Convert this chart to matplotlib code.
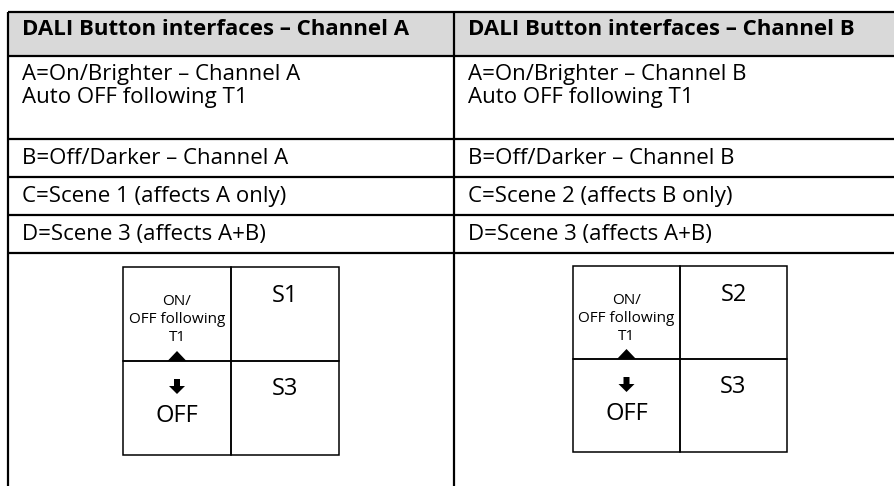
import matplotlib.pyplot as plt
from matplotlib.patches import Rectangle, Polygon, FancyArrow

plt.rcParams['font.family'] = ['Open Sans', 'DejaVu Sans']

# table content
headers = ["DALI Button interfaces – Channel A", "DALI Button interfaces – Channel B"]
first_row = [["A=On/Brighter – Channel A", "Auto OFF following T1"],
             ["A=On/Brighter – Channel B", "Auto OFF following T1"]]
other_rows = [["B=Off/Darker – Channel A", "C=Scene 1 (affects A only)", "D=Scene 3 (affects A+B)"],
              ["B=Off/Darker – Channel B", "C=Scene 2 (affects B only)", "D=Scene 3 (affects A+B)"]]
onoff_label = ["ON/", "OFF following", "T1"]
off_label = "OFF"
scene_top = ["S1", "S2"]
scene_bottom = ["S3", "S3"]

# layout in pixels
W, H = 895, 486
col_x = [8, 454]
row_y = [12, 56, 139, 177, 215, 253]
text_dx = 14
box_x = [123, 573]
box_y = 267
cell_w = [108, 107]
cell_h = [94, 93]

fig = plt.figure(figsize=(W / 100, H / 100), dpi=100)
ax = fig.add_axes([0, 0, 1, 1])
ax.set_xlim(0, W)
ax.set_ylim(H, 0)
ax.axis('off')

fs = 16
lw = 1.6

# header background
ax.add_patch(Rectangle((col_x[0], row_y[0]), W - col_x[0], row_y[1] - row_y[0],
                       facecolor='#d9d9d9', edgecolor='none', zorder=0))

# grid lines
for y in row_y:
    ax.plot([col_x[0], W], [y, y], color='black', lw=lw, solid_capstyle='butt')
for x in col_x:
    ax.plot([x, x], [row_y[0], H], color='black', lw=lw, solid_capstyle='butt')

for c in range(2):
    tx = col_x[c] + text_dx
    ax.text(tx, 35, headers[c], fontsize=fs, fontweight='bold', va='baseline', ha='left')
    ax.text(tx, 80, first_row[c][0], fontsize=fs, va='baseline', ha='left')
    ax.text(tx, 103, first_row[c][1], fontsize=fs, va='baseline', ha='left')
    for r, label in enumerate(other_rows[c]):
        ax.text(tx, row_y[r + 2] + 25, label, fontsize=fs, va='baseline', ha='left')

    # button diagram
    bx, by = box_x[c], box_y - c
    cw, ch = cell_w[c], cell_h[c]
    for i in range(2):
        for j in range(2):
            ax.add_patch(Rectangle((bx + i * cw, by + j * ch), cw, ch, facecolor='none',
                                   edgecolor='black', lw=1.1, zorder=2))
    lx = bx + cw / 2
    rx = bx + cw * 1.5
    for k, t in enumerate(onoff_label):
        ax.text(lx, by + 38 + k * 18, t, fontsize=11, va='baseline', ha='center')
    ax.add_patch(Polygon([[lx - 9.5, by + ch], [lx + 9.5, by + ch], [lx, by + ch - 10]],
                         closed=True, facecolor='black', edgecolor='none', zorder=3))
    ax.add_patch(FancyArrow(lx, by + ch + 18, 0, 15, width=6, head_width=16, head_length=8,
                            length_includes_head=True, color='black', lw=0, zorder=3))
    ax.text(lx, by + ch + 61, off_label, fontsize=17, va='baseline', ha='center')
    ax.text(rx, by + 35, scene_top[c], fontsize=17, va='baseline', ha='center')
    ax.text(rx, by + ch + 34, scene_bottom[c], fontsize=17, va='baseline', ha='center')

fig.savefig('out.png', dpi=100)
